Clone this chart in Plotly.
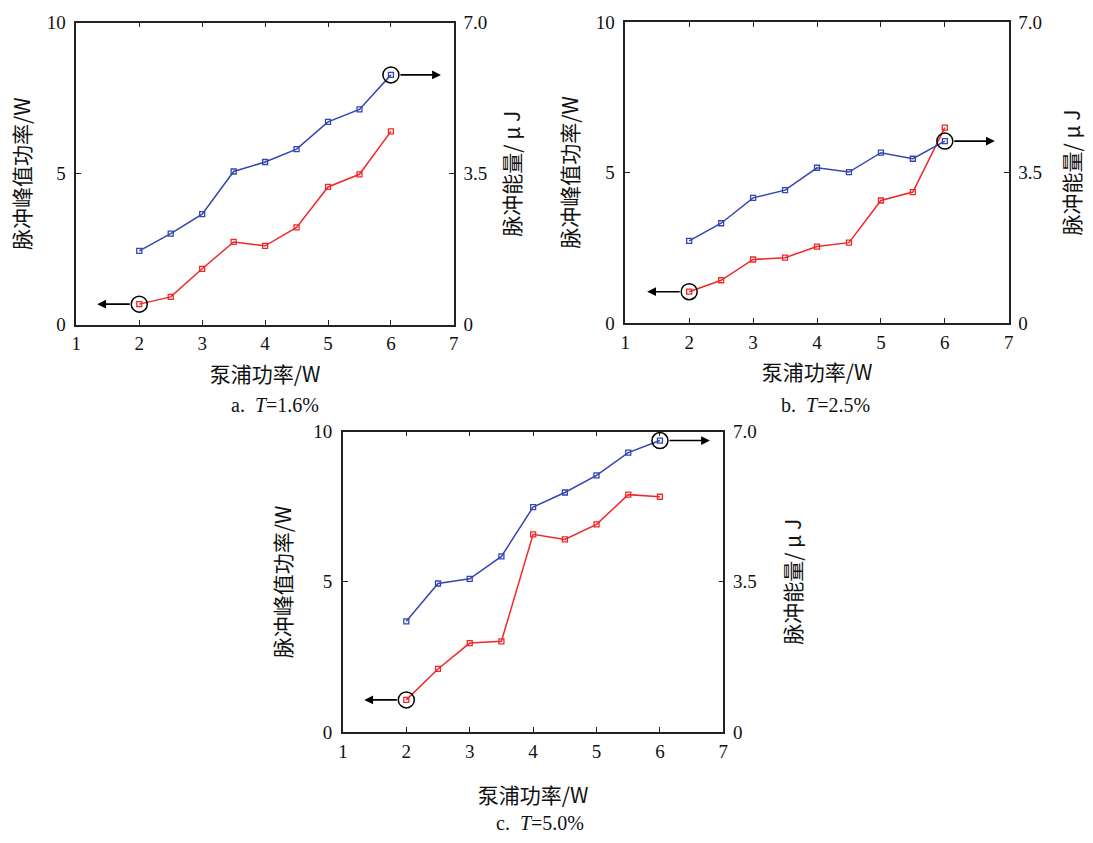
import plotly.graph_objects as go

pump = [2, 2.5, 3, 3.5, 4, 4.5, 5, 5.5, 6]

peak_a = [0.68, 0.92, 1.85, 2.74, 2.61, 3.22, 4.56, 4.98, 6.40]
energy_a = [1.71, 2.11, 2.56, 3.55, 3.77, 4.07, 4.70, 4.99, 5.79]

peak_b = [1.04, 1.42, 2.11, 2.17, 2.54, 2.67, 4.07, 4.35, 6.49]
energy_b = [1.91, 2.32, 2.91, 3.09, 3.61, 3.51, 3.96, 3.82, 4.23]

peak_c = [1.07, 2.10, 2.96, 3.02, 6.58, 6.41, 6.91, 7.90, 7.83]
energy_c = [2.58, 3.46, 3.57, 4.09, 5.24, 5.58, 5.98, 6.51, 6.79]

x_ticks = [1, 2, 3, 4, 5, 6, 7]
left_ticks = [0, 5, 10]
right_tickvals = [0, 3.5, 7]
right_ticktext = ["0", "3.5", "7.0"]

x_title = "泵浦功率/W"
left_title = "脉冲峰值功率/W"
right_title = "脉冲能量/ μ J"
captions = ["a.  <i>T</i>=1.6%", "b.  <i>T</i>=2.5%", "c.  <i>T</i>=5.0%"]

RED = "#f02828"
BLUE = "#3446b0"
SERIF = "Liberation Serif"
CJK = "Noto Sans CJK SC"
W, H = 1093, 843

def px_x(v):
    return v / W

def px_y(v):
    return 1 - v / H

panels = [
    dict(peak=peak_a, energy=energy_a, xd=[px_x(72), px_x(453)], yd=[px_y(322.7), px_y(13)],
         sl=10, sr=19, sx=14, cap=(272, 405)),
    dict(peak=peak_b, energy=energy_b, xd=[px_x(626), px_x(1013)], yd=[px_y(321), px_y(12.3)],
         sl=11, sr=24, sx=14, cap=(828, 405)),
    dict(peak=peak_c, energy=energy_c, xd=[px_x(341), px_x(725)], yd=[px_y(740.5), px_y(432.3)],
         sl=16, sr=31, sx=28, cap=(540, 834)),
]

fig = go.Figure()
layout = {}
shapes = []
annotations = []

for i, p in enumerate(panels):
    xn = "" if i == 0 else str(i + 1)
    yl = str(2 * i + 1) if i > 0 else ""
    yr = str(2 * i + 2)
    xref = "x" + xn
    ylref = "y" + yl
    yrref = "y" + yr

    fig.add_trace(go.Scatter(
        x=pump, y=p["peak"], xaxis=xref, yaxis=ylref, mode="lines+markers",
        line=dict(color=RED, width=1.5),
        marker=dict(symbol="square-open", size=5, color=RED, line=dict(width=1.3)),
        showlegend=False))
    fig.add_trace(go.Scatter(
        x=pump, y=p["energy"], xaxis=xref, yaxis=yrref, mode="lines+markers",
        line=dict(color=BLUE, width=1.5),
        marker=dict(symbol="square-open", size=5, color=BLUE, line=dict(width=1.3)),
        showlegend=False))

    common = dict(ticks="inside", ticklen=5, tickwidth=1, tickcolor="#222",
                  showline=True, linecolor="#222", linewidth=1.6,
                  showgrid=False, zeroline=False,
                  tickfont=dict(family=SERIF, size=19, color="#111"))
    layout["xaxis" + xn] = dict(
        domain=p["xd"], anchor=ylref, range=[1, 7], tickvals=x_ticks, mirror="ticks",
        ticklabelstandoff=1,
        title=dict(text=x_title, font=dict(family=CJK, size=21, color="#111"), standoff=p["sx"]),
        **common)
    layout["yaxis" + yl] = dict(
        domain=p["yd"], anchor=xref, range=[0, 10], tickvals=left_ticks,
        ticklabelstandoff=5,
        title=dict(text=left_title, font=dict(family=CJK, size=21, color="#111"), standoff=p["sl"]),
        **common)
    layout["yaxis" + yr] = dict(
        domain=p["yd"], anchor=xref, overlaying=ylref, side="right", range=[0, 7],
        tickvals=right_tickvals, ticktext=right_ticktext, ticklabelstandoff=4,
        title=dict(text=right_title, font=dict(family=CJK, size=21, color="#111"), standoff=p["sr"]),
        **common)

    shapes.append(dict(type="circle", xref=xref, yref=ylref, xsizemode="pixel", ysizemode="pixel",
                       xanchor=pump[0], yanchor=p["peak"][0], x0=-8, x1=8, y0=-8, y1=8,
                       line=dict(color="black", width=1.5)))
    shapes.append(dict(type="circle", xref=xref, yref=yrref, xsizemode="pixel", ysizemode="pixel",
                       xanchor=pump[-1], yanchor=p["energy"][-1], x0=-8, x1=8, y0=-8, y1=8,
                       line=dict(color="black", width=1.5)))
    annotations.append(dict(xref=xref, yref=ylref, x=pump[0], y=p["peak"][0], text="",
                            showarrow=True, arrowhead=2, arrowsize=1.1, arrowwidth=1.6, arrowcolor="black",
                            xshift=-42, ax=34, ay=0))
    annotations.append(dict(xref=xref, yref=yrref, x=pump[-1], y=p["energy"][-1], text="",
                            showarrow=True, arrowhead=2, arrowsize=1.1, arrowwidth=1.6, arrowcolor="black",
                            xshift=50, ax=-42, ay=0))
    annotations.append(dict(xref="paper", yref="paper", x=px_x(p["cap"][0]), y=px_y(p["cap"][1]),
                            text=captions[i], showarrow=False, xanchor="center", yanchor="middle",
                            font=dict(family=SERIF, size=20, color="#111")))

fig.update_layout(**layout)
fig.update_layout(
    width=W, height=H, margin=dict(l=0, r=0, t=0, b=0),
    paper_bgcolor="white", plot_bgcolor="white",
    shapes=shapes, annotations=annotations,
)

fig.write_html("out.html")
